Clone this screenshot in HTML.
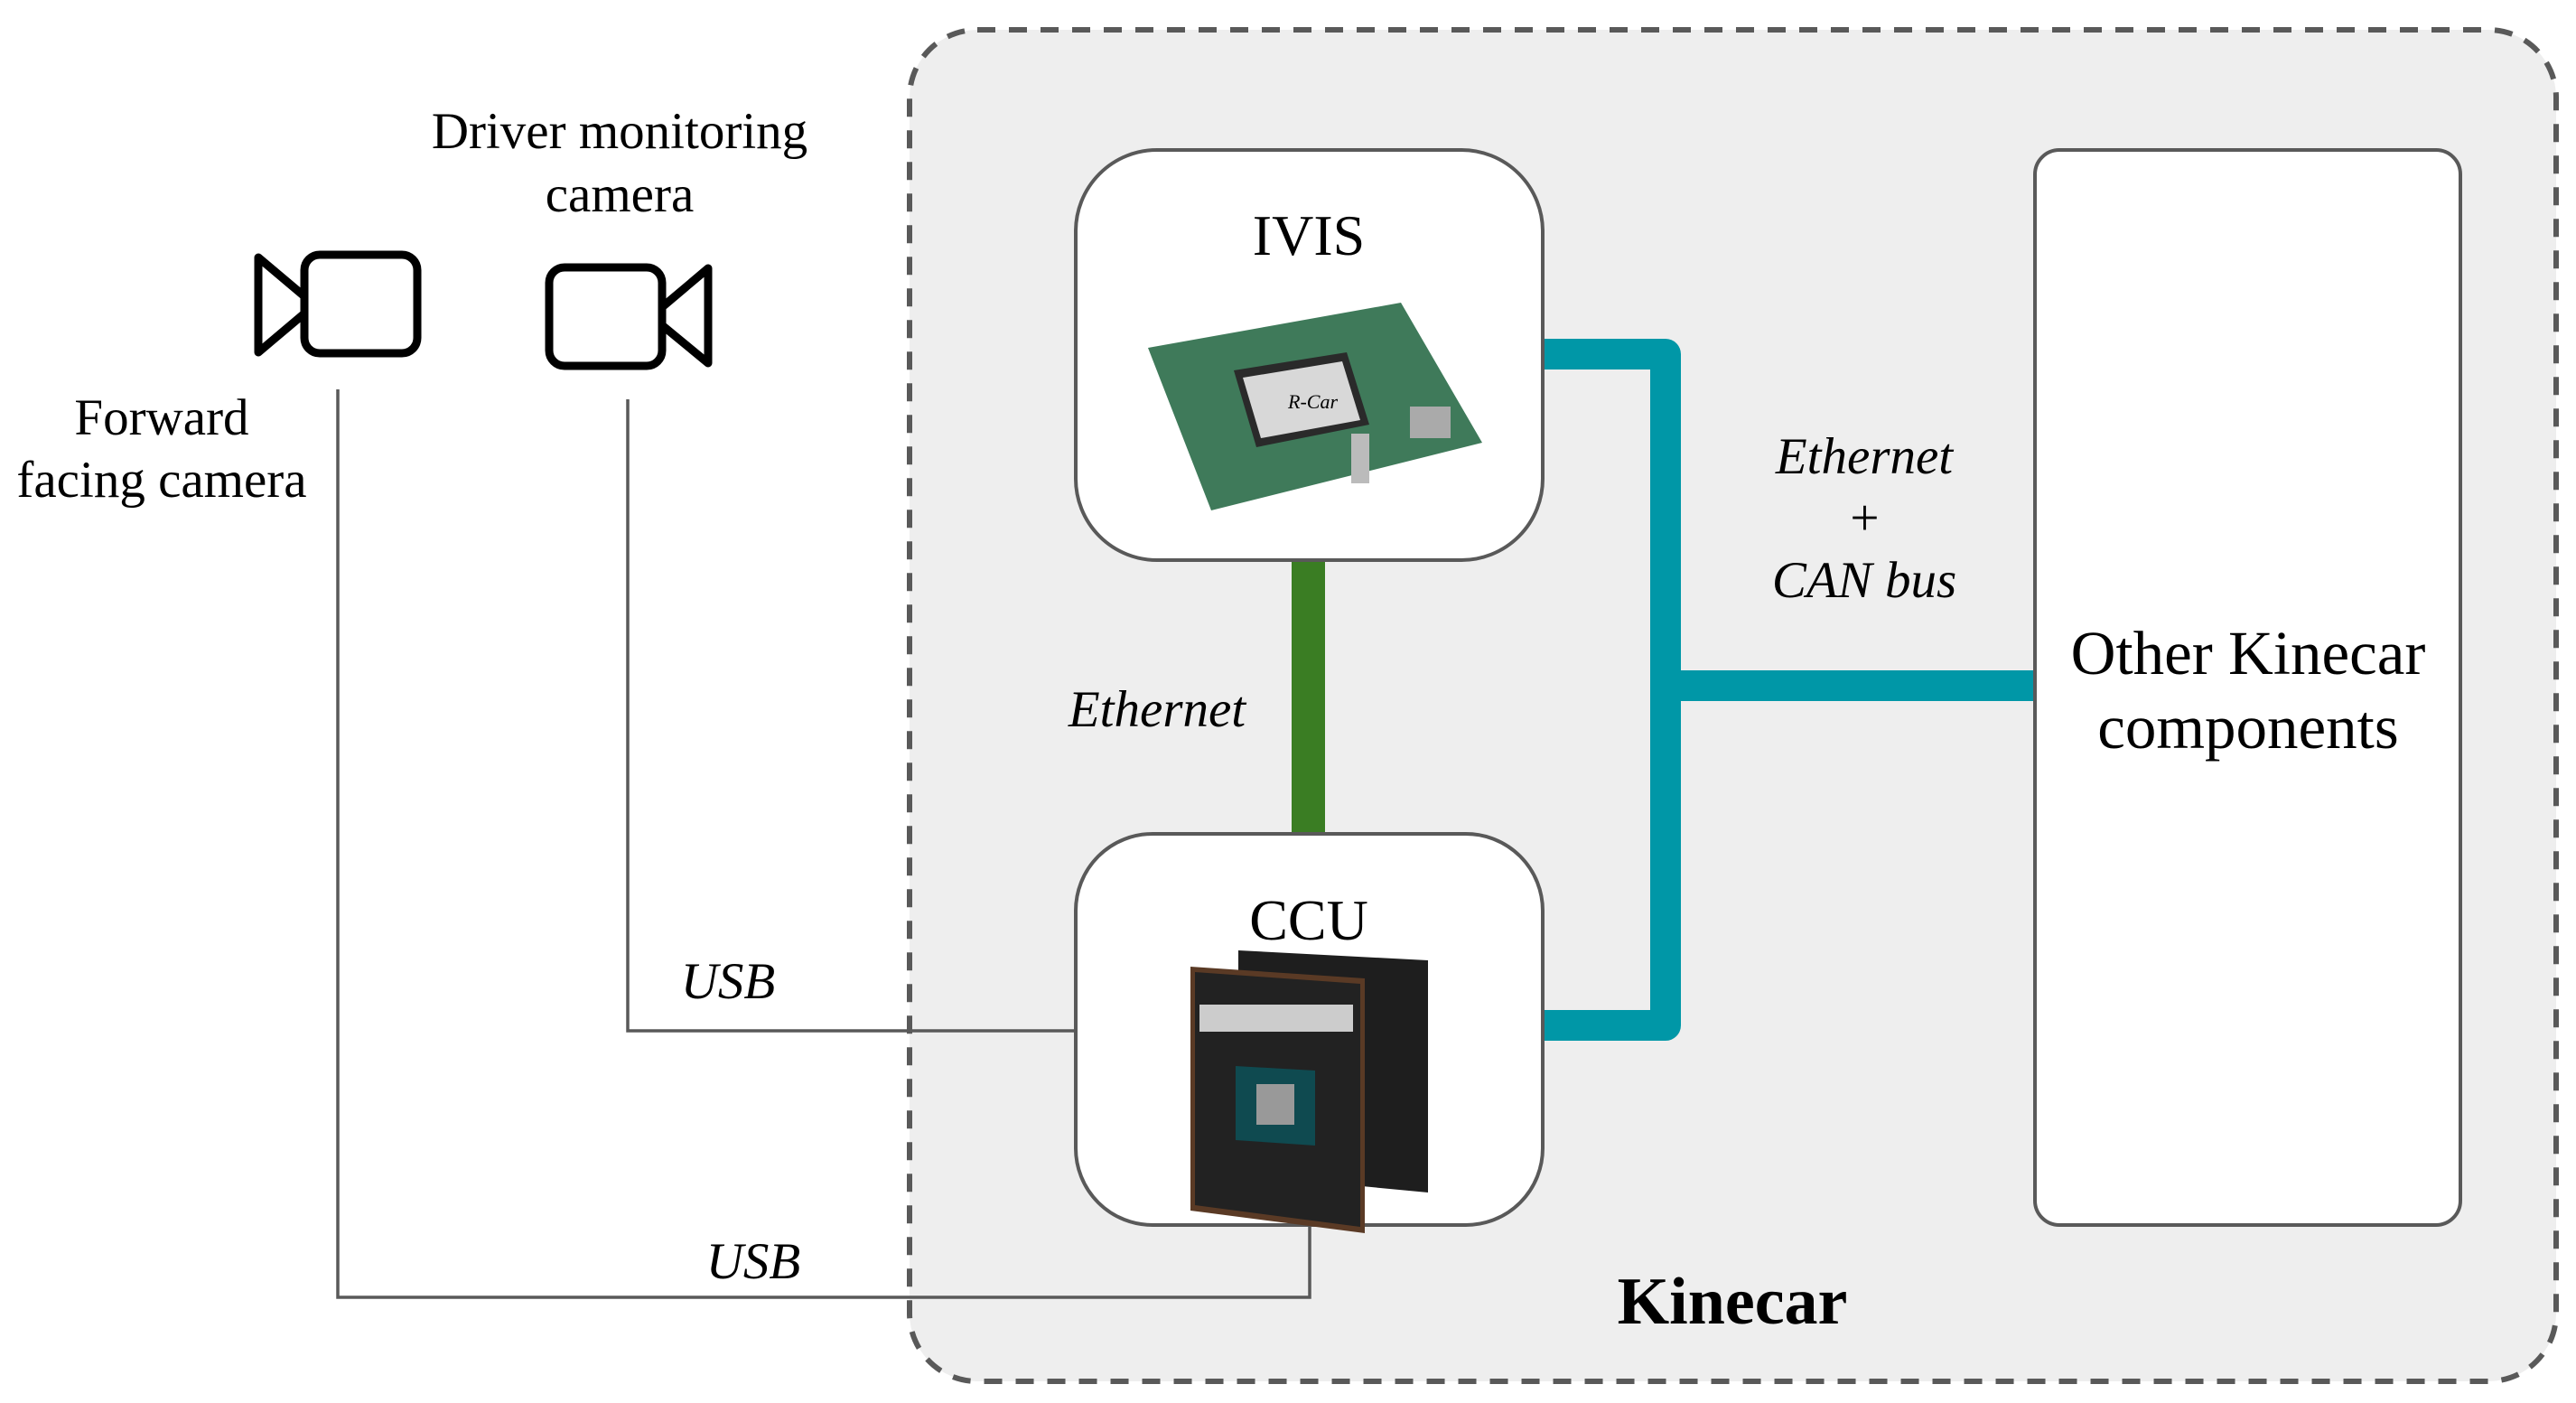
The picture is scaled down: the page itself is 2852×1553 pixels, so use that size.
<!DOCTYPE html>
<html><head><meta charset="utf-8"><style>
html,body{margin:0;padding:0;background:#fff;}
svg{display:block;}
text{font-family:"Liberation Serif",serif;fill:#000;}
</style></head><body>
<svg width="2852" height="1553" viewBox="0 0 2852 1553" xmlns="http://www.w3.org/2000/svg">
<g transform="translate(-4,0)">
<rect x="1011" y="33" width="1823" height="1496" rx="75" fill="#eeeeee" stroke="#595959" stroke-width="6" stroke-dasharray="20 15"/>
<polyline points="699,442 699,1141 1195,1141" fill="none" stroke="#595959" stroke-width="3.5"/>
<polyline points="378,431 378,1436 1454,1436 1454,1356" fill="none" stroke="#595959" stroke-width="3.5"/>
<rect x="1434" y="620" width="37" height="305" fill="#3a7d23"/>
<path d="M1712,392 L1848,392 L1848,1135 L1712,1135 M1848,759 L2257,759" fill="none" stroke="#0097a7" stroke-width="34" stroke-linejoin="round"/>
<rect x="1195" y="166" width="517" height="454" rx="90" fill="#fff" stroke="#595959" stroke-width="4"/>
<rect x="1195" y="923" width="517" height="433" rx="85" fill="#fff" stroke="#595959" stroke-width="4"/>
<rect x="2257" y="166" width="471" height="1190" rx="27" fill="#fff" stroke="#595959" stroke-width="4"/>
<polygon points="1275,385 1555,335 1645,490 1345,565" fill="#3f7a5a"/>
<polygon points="1370,410 1495,390 1520,470 1395,495" fill="#2a2a2a"/>
<polygon points="1380,418 1490,400 1510,465 1400,485" fill="#d8d8d8"/>
<text x="1430" y="452" font-size="22" font-style="italic" fill="#333">R-Car</text>
<rect x="1565" y="450" width="45" height="35" fill="#aaa"/>
<rect x="1500" y="480" width="20" height="55" fill="#bbb"/>
<polygon points="1375,1052 1585,1063 1585,1320 1375,1300" fill="#1e1e1e"/>
<polygon points="1322,1070 1515,1083 1515,1365 1322,1340" fill="#5a3a25"/>
<polygon points="1327,1076 1510,1089 1510,1358 1327,1334" fill="#222"/>
<rect x="1332" y="1112" width="170" height="30" fill="#ccc"/>
<polygon points="1372,1180 1460,1185 1460,1268 1372,1262" fill="#0f4a50"/>
<rect x="1395" y="1200" width="42" height="45" fill="#999"/>
<g fill="none" stroke="#000" stroke-width="9" stroke-linejoin="round">
<rect x="341" y="282" width="125" height="109" rx="17"/>
<polygon points="290,285 341,328 341,347 290,390"/>
<rect x="612" y="296" width="125" height="109" rx="17"/>
<polygon points="737,340 788,297 788,402 737,360"/>
</g>
<g font-size="57" text-anchor="middle">
<text x="690" y="164">Driver monitoring</text>
<text x="690" y="234">camera</text>
<text x="183" y="481">Forward</text>
<text x="183" y="550">facing camera</text>
</g>
<text x="1453" y="282" font-size="64" text-anchor="middle">IVIS</text>
<text x="1453" y="1040" font-size="64" text-anchor="middle">CCU</text>
<g font-size="57" font-style="italic" text-anchor="middle">
<text x="2068" y="524">Ethernet</text>
<text x="2068" y="592">+</text>
<text x="2068" y="661">CAN bus</text>
<text x="1285" y="804">Ethernet</text>
<text x="810" y="1105">USB</text>
<text x="838" y="1415">USB</text>
</g>
<g font-size="69" text-anchor="middle">
<text x="2493" y="746">Other Kinecar</text>
<text x="2493" y="828">components</text>
</g>
<text x="1922" y="1465" font-size="74" font-weight="bold" text-anchor="middle">Kinecar</text>
</g>
</svg>
</body></html>
